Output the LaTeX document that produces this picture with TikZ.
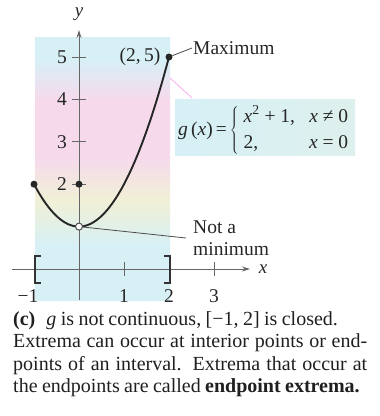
\documentclass[tikz,border=0pt]{standalone}
\usepackage{fontspec}
\setmainfont{Liberation Serif}
\usetikzlibrary{arrows.meta}
\definecolor{bgpink}{RGB}{246,218,236}
\definecolor{bgcyan}{RGB}{214,240,246}
\definecolor{bgyellow}{RGB}{240,240,214}
\pgfdeclareverticalshading{bandshade}{100bp}{color(0bp)=(bgcyan); color(25bp)=(bgcyan); color(35bp)=(bgcyan); color(44bp)=(bgyellow); color(52bp)=(bgpink); color(63bp)=(bgpink); color(71bp)=(bgcyan); color(75bp)=(bgcyan); color(100bp)=(bgcyan)}
\begin{document}
\begin{tikzpicture}[x=1pt,y=-1pt,
  font=\fontsize{19.5}{23}\selectfont,
  axis/.style={draw=black!60, line width=0.9pt},
  curve/.style={draw=black!85, line width=1.9pt},
  dot/.style={circle, fill=black!85, inner sep=0pt, minimum size=7pt},
  odot/.style={circle, draw=black!70, fill=white, inner sep=0pt, minimum size=7pt, line width=1pt},
  lbl/.style={inner sep=1pt, text=black!85},
  pointer/.style={draw=black!70, line width=0.8pt},
  bracketline/.style={draw=black!80, line width=2pt}]
\useasboundingbox (0,0) rectangle (380,416);
% shaded interval region
\shade[shading=bandshade] (35,37) rectangle (170,300);
% equation box
\shade[left color=bgcyan, right color=bgcyan!70!bgyellow] (175,99) rectangle (355,155);
% faint pointer
\coordinate (fp1) at (170,78);
\coordinate (fp2) at (192,98);
\draw[bgpink!80!magenta, line width=0.8pt] (fp1) -- (fp2);
% axes
\coordinate (xs) at (12,269);
\coordinate (xe) at (250,269);
\coordinate (ys) at (79,300);
\coordinate (ye) at (79,30);
\draw[axis,-{Stealth[length=8pt,width=5pt]}] (xs) -- (xe);
\draw[axis,-{Stealth[length=8pt,width=5pt]}] (ys) -- (ye);
\node[lbl, inner sep=0pt, font=\fontsize{19}{21}\selectfont\itshape] (xl) at (263,269) {x};
\node[lbl, font=\fontsize{19}{21}\selectfont\itshape] (yl) at (79,14) {y};
% x ticks
\foreach \i/\X in {1/124,2/169,3/214}{
  \draw[axis] (\X,262) -- (\X,276);
  \node[lbl] (xt\i) at (\X,296) {\i};
}
\node[lbl] (xtm1) at (28,296) {−1};
% y ticks
\foreach \i/\Y in {2/184.2,3/141.8,4/99.4,5/57}{
  \draw[axis] (72,\Y) -- (86,\Y);
  \node[lbl] (yt\i) at (62,\Y) {\i};
}
% brackets
\draw[bracketline] (41,256) -- (35,256) -- (35,283) -- (41,283);
\draw[bracketline] (164,256) -- (170,256) -- (170,283) -- (164,283);
% curve
\draw[curve] plot[domain=-1:2, samples=80] ({79+45*\x},{269-42.4*(\x*\x+1)});
% points
\node[dot] (pL) at (34,184.2) {};
\node[dot] (p02) at (79,184.2) {};
\node[dot] (pmax) at (169,57) {};
\node[odot] (p01) at (79,226.6) {};
% labels
\node[lbl] (pt25) at (140,57) {(2,\,5)};
\node[lbl, anchor=west] (maxl) at (192,48) {Maximum};
\draw[pointer] (pmax) -- (maxl.west);
\node[lbl, anchor=west, align=left, font=\fontsize{19.5}{22}\selectfont] (nmin) at (192,238) {Not a\\minimum};
\coordinate (nm) at (186,238);
\draw[pointer] (p01) -- (nm);
% equation
\node[lbl, anchor=west] (eq) at (177,130) {\textit{g}\,(\textit{x})\hspace{3pt}=\hspace{3pt}$\left\{\hspace{5pt}\renewcommand\arraystretch{1.12}\begin{tabular}{@{}l@{\hspace{14pt}}r@{}}\textit{x}\textsuperscript{2} + 1, & \textit{x} ≠ 0\\ 2, & \textit{x} = 0\end{tabular}\right.$};
% caption
\node[anchor=north west, text width=354pt, align=justify, inner sep=0pt, text=black!88,
  font=\fontsize{20}{22.5}\selectfont] (cap) at (13,311)
  {\spaceskip=0.22em plus 0.12em minus 0.08em\relax
   \textbf{(c)}\hspace{11pt}\textit{g} is not continuous, [−1, 2] is closed.\\
   Extrema can occur at interior points or end-\linebreak
   points of an interval. Extrema that occur at\linebreak
   the endpoints are called \textbf{endpoint extrema.}};
\end{tikzpicture}
\end{document}
